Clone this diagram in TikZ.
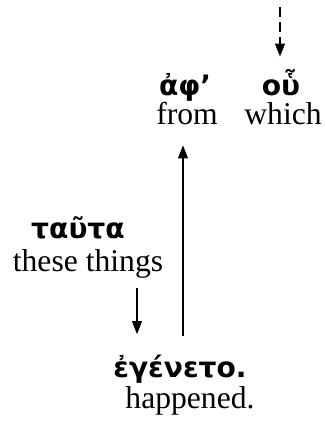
\documentclass[tikz,border=0pt]{standalone}
\usepackage{fontspec}
\setmainfont{Liberation Serif}
\newfontfamily\grk{DejaVu Sans}
\usetikzlibrary{arrows.meta}
\tikzset{
  greek/.style={font=\grk\bfseries\fontsize{16}{18}\selectfont, anchor=base, inner sep=1pt},
  gloss/.style={font=\fontsize{18}{20}\selectfont, anchor=base, inner sep=1pt},
}
\begin{document}
\begin{tikzpicture}[x=0.2mm,y=-0.2mm,line width=0.7pt,>={Triangle[length=2.6mm,width=2mm]}]
\useasboundingbox (0,0) rectangle (325,430);
% upper row
\node[greek] (apo) at (185,95) {ἀφ’};
\node[gloss] (apoGl) at (187,124) {from};
\node[greek] (hou) at (281,95) {οὗ};
\node[gloss] (houGl) at (283,124) {which};
% left
\node[greek] (tauta) at (78,238) {ταῦτα};
\node[gloss] (tautaGl) at (88,271) {these things};
% verb
\node[greek] (egeneto) at (180,377) {ἐγένετο.};
\node[gloss] (egenetoGl) at (190,408) {happened.};

\coordinate (top) at (280,7);
\coordinate (d) at (137,0);
\coordinate (u) at (183,0);

\draw[->,dash pattern=on 2mm off 1mm,shorten >=2mm] (top) -- (hou.north -| top);
\draw[->,shorten <=1.6mm,shorten >=3.6mm] (tautaGl.south -| d) -- (egeneto.north -| d);
\draw[->,shorten <=3.2mm,shorten >=3.75mm] (egeneto.north -| u) -- (apoGl.south -| u);
\end{tikzpicture}
\end{document}
